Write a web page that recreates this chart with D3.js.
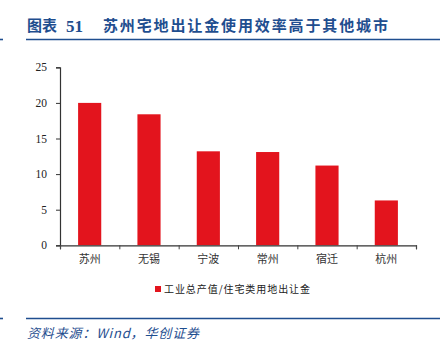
<!DOCTYPE html>
<html>
<head>
<meta charset="utf-8">
<script src="https://cdn.jsdelivr.net/npm/d3@7"></script>
<style>
  body { margin: 0; background: #fff; }
  svg { display: block; }
</style>
</head>
<body>
<div id="chart"></div>
<script>
// chart data
const cities = ['苏州', '无锡', '宁波', '常州', '宿迁', '杭州'];
const ratio = [20.0, 18.4, 13.2, 13.1, 11.2, 6.3];
const yTicks = [0, 5, 10, 15, 20, 25];
const seriesName = '工业总产值/住宅类用地出让金';
const titleLabel = '图表';
const titleNum = '51';
const titleText = '苏州宅地出让金使用效率高于其他城市';
const sourceText = '资料来源：Wind，华创证券';

const W = 440, H = 352;
const blue = '#1f4e8f';
const red = '#e3141d';
const cjk = '"Noto Sans CJK SC", sans-serif';
const serif = '"Liberation Serif", "DejaVu Serif", serif';

const margin = { top: 67.3, right: 24, bottom: 106.7, left: 60 };
const width = W - margin.left - margin.right;
const height = H - margin.top - margin.bottom;

const svg = d3.select('#chart').append('svg')
  .attr('width', W)
  .attr('height', H);

// title + rules
svg.append('text')
  .attr('x', 27).attr('y', 31)
  .attr('fill', blue)
  .style('font-family', cjk).style('font-size', '15px').style('font-weight', 'bold')
  .text(titleLabel);
svg.append('text')
  .attr('x', 66).attr('y', 31.5)
  .attr('fill', blue)
  .style('font-family', serif).style('font-size', '17px').style('font-weight', 'bold')
  .text(titleNum);
svg.append('text')
  .attr('x', 103).attr('y', 31)
  .attr('fill', blue)
  .attr('textLength', 285).attr('lengthAdjust', 'spacing')
  .style('font-family', cjk).style('font-size', '15px').style('font-weight', 'bold')
  .text(titleText);

svg.append('line')
  .attr('x1', 26).attr('x2', W).attr('y1', 39.5).attr('y2', 39.5)
  .attr('stroke', blue).attr('stroke-width', 1.6);
svg.append('line')
  .attr('x1', 0).attr('x2', 3).attr('y1', 39.5).attr('y2', 39.5)
  .attr('stroke', blue).attr('stroke-width', 1.6);

svg.append('line')
  .attr('x1', 26).attr('x2', W).attr('y1', 318.5).attr('y2', 318.5)
  .attr('stroke', blue).attr('stroke-width', 1.6);
svg.append('line')
  .attr('x1', 0).attr('x2', 3).attr('y1', 318.5).attr('y2', 318.5)
  .attr('stroke', blue).attr('stroke-width', 1.6);

svg.append('text')
  .attr('x', 27).attr('y', 338)
  .attr('fill', blue)
  .attr('textLength', 172).attr('lengthAdjust', 'spacing')
  .style('font-family', cjk).style('font-size', '13px').style('font-style', 'italic')
  .text(sourceText);

// plot area
const g = svg.append('g')
  .attr('transform', `translate(${margin.left},${margin.top})`);

const x = d3.scaleBand()
  .domain(cities)
  .range([0, width])
  .paddingInner(0.61)
  .paddingOuter(0.305);

const xEdges = d3.scaleLinear()
  .domain([0, cities.length])
  .range([0, width]);

const y = d3.scaleLinear()
  .domain([0, 25])
  .range([height, 0]);

g.selectAll('.bar')
  .data(ratio)
  .enter()
  .append('rect')
  .attr('class', 'bar')
  .attr('x', (d, i) => x(cities[i]))
  .attr('y', (d) => y(d))
  .attr('width', x.bandwidth())
  .attr('height', (d) => height - y(d))
  .attr('fill', red);

// y axis
const yAxis = g.append('g')
  .call(d3.axisLeft(y).tickValues(yTicks).tickSize(4).tickPadding(9).tickFormat(d3.format('d')));
yAxis.select('.domain').attr('stroke', '#333').attr('stroke-width', 1.2);
yAxis.selectAll('.tick line').attr('stroke', '#333');
yAxis.selectAll('.tick text')
  .attr('fill', '#222')
  .style('font-family', serif).style('font-size', '11.5px');

// x axis: boundary ticks + category labels
const xAxis = g.append('g')
  .attr('transform', `translate(0,${height})`)
  .call(d3.axisBottom(xEdges).tickValues(d3.range(cities.length + 1)).tickSize(4).tickFormat(''));
xAxis.select('.domain').attr('stroke', '#333').attr('stroke-width', 1.2);
xAxis.selectAll('.tick line').attr('stroke', '#444');

const xLabels = g.append('g')
  .attr('transform', `translate(0,${height})`)
  .call(d3.axisBottom(x).tickSize(0).tickPadding(10));
xLabels.select('.domain').remove();
xLabels.selectAll('.tick text')
  .attr('fill', '#333')
  .style('font-family', cjk).style('font-size', '11px');

// legend
const legend = svg.append('g').attr('transform', 'translate(155,289)');
legend.append('rect')
  .attr('x', 0).attr('y', -3)
  .attr('width', 6).attr('height', 6)
  .attr('fill', red);
legend.append('text')
  .attr('x', 9).attr('y', 0)
  .attr('dy', '0.35em')
  .attr('fill', '#222')
  .attr('textLength', 146).attr('lengthAdjust', 'spacing')
  .style('font-family', cjk).style('font-size', '10px')
  .text(seriesName);
</script>
</body>
</html>
